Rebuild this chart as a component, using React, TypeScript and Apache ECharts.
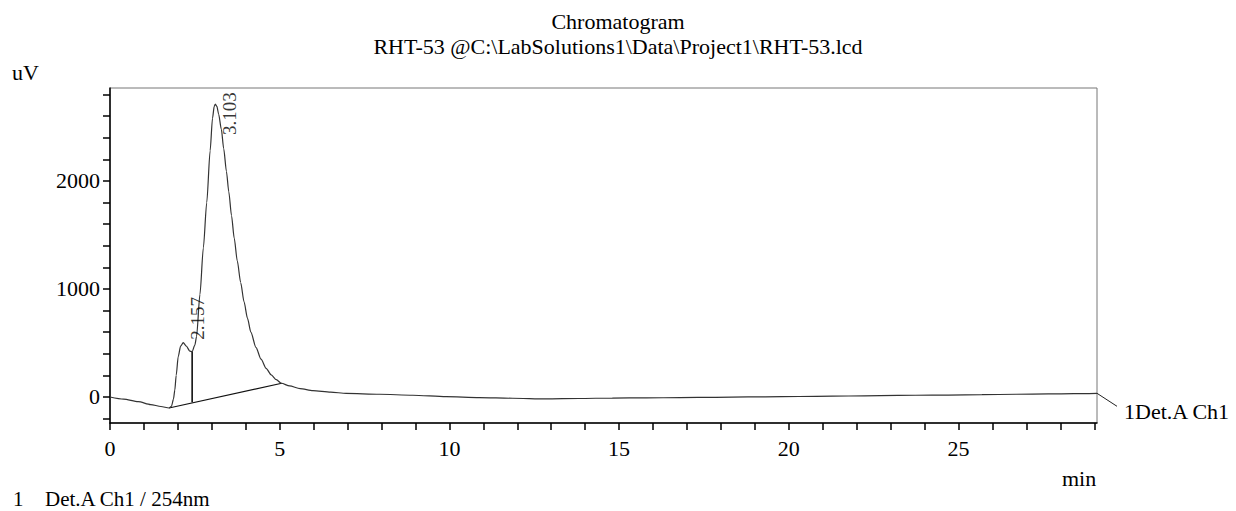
import React, { useEffect, useRef } from "react";
import * as echarts from "echarts";

const titleLines = ["Chromatogram", "RHT-53 @C:\\LabSolutions1\\Data\\Project1\\RHT-53.lcd"];

const retentionTimes = [
  0, 0.4, 0.83, 1.2, 1.5, 1.74, 1.81, 1.87, 1.91, 1.95, 2.01, 2.08, 2.157, 2.25, 2.35, 2.42,
  2.5, 2.55, 2.65, 2.75, 2.85, 2.95, 3.02, 3.07, 3.103, 3.15, 3.2, 3.28, 3.35, 3.43, 3.5,
  3.58, 3.66, 3.75, 3.85, 3.95, 4.05, 4.15, 4.3, 4.45, 4.6, 4.75, 4.9, 5.05, 5.29, 5.6,
  5.98, 6.5, 6.96, 7.94, 8.92, 9.9, 10.88, 11.86, 12.84, 13.82, 14.8, 15.8, 16.8, 17.84,
  18.8, 19.8, 20.8, 21.76, 22.7, 23.73, 24.7, 25.69, 26.7, 27.65, 28.4, 29.08,
];
const signalUV = [
  0, -20, -43, -70, -88, -102, -87, -20, 65, 200, 373, 470, 503, 470, 425, 420,
  480, 560, 950, 1380, 1800, 2280, 2580, 2690, 2713, 2690, 2620, 2480, 2300, 2090, 1900,
  1680, 1470, 1260, 1060, 880, 730, 600, 460, 350, 265, 205, 160, 127, 102, 78,
  58, 44, 34, 25, 16, 3, -6, -12, -18, -14, -10, -8, -6, -3,
  0, 3, 6, 9, 12, 16, 18, 21, 25, 28, 31, 34,
];

const baselineTimes = [1.74, 5.06];
const baselineValues = [-102, 127];
const dropLineTimes = [2.42, 2.42];
const dropLineValues = [-50, 420];

const peakTimes = [2.157, 3.103];
const peakHeights = [503, 2713];
const peakLabels = ["2.157", "3.103"];

const xTickValues = [0, 1, 2, 3, 4, 5, 6, 7, 8, 9, 10, 11, 12, 13, 14, 15, 16, 17, 18, 19, 20, 21, 22, 23, 24, 25, 26, 27, 28, 29];
const xLabelValues = [0, 5, 10, 15, 20, 25];
const yTickValues = [-200, 0, 200, 400, 600, 800, 1000, 1200, 1400, 1600, 1800, 2000, 2200, 2400, 2600, 2800];
const yLabelValues = [0, 1000, 2000];

const yAxisUnit = "uV";
const xAxisUnit = "min";
const channelName = "1Det.A Ch1";
const footnoteIndex = "1";
const footnoteText = "Det.A Ch1 / 254nm";

const FONT = "'Liberation Serif', 'Times New Roman', serif";

export default function App() {
  const ref = useRef<HTMLDivElement>(null);

  useEffect(() => {
    if (!ref.current) return;
    const chart = echarts.init(ref.current, undefined, { renderer: "svg" });

    const curve = retentionTimes.map((t, i) => [t, signalUV[i]]);
    const baseline = baselineTimes.map((t, i) => [t, baselineValues[i]]);
    const dropLine = dropLineTimes.map((t, i) => [t, dropLineValues[i]]);
    const labelOffsets = [
      [14, -3],
      [14, 31],
    ];
    const peaks = peakTimes.map((t, i) => ({
      value: [t, peakHeights[i]],
      label: { position: labelOffsets[i], formatter: peakLabels[i] },
    }));

    chart.setOption({
      animation: false,
      backgroundColor: "#fff",
      title: {
        text: titleLines.join("\n"),
        left: "center",
        top: 9,
        padding: 0,
        textStyle: { fontFamily: FONT, fontSize: 22, fontWeight: "normal", color: "#000", lineHeight: 25 },
      },
      grid: {
        left: 110,
        top: 88,
        right: 139,
        bottom: 88,
        show: true,
        borderColor: "#777",
        borderWidth: 1,
      },
      xAxis: {
        type: "value",
        min: 0,
        max: 29.08,
        axisLine: { show: true, onZero: false, lineStyle: { color: "#000", width: 1.5 } },
        axisTick: { show: true, inside: false, length: 7, customValues: xTickValues, lineStyle: { color: "#000", width: 1.5 } },
        axisLabel: {
          customValues: xLabelValues,
          formatter: (v: number) => String(v),
          fontFamily: FONT,
          fontSize: 22,
          color: "#000",
          margin: 14,
        },
        splitLine: { show: false },
      },
      yAxis: {
        type: "value",
        min: -241,
        max: 2861,
        axisLine: { show: true, onZero: false, lineStyle: { color: "#000", width: 1.5 } },
        axisTick: { show: true, inside: false, length: 7, customValues: yTickValues, lineStyle: { color: "#000", width: 1.5 } },
        axisLabel: {
          customValues: yLabelValues,
          formatter: (v: number) => String(v),
          fontFamily: FONT,
          fontSize: 22,
          color: "#000",
          margin: 10,
        },
        splitLine: { show: false },
      },
      series: [
        {
          type: "line",
          data: curve,
          symbol: "none",
          smooth: 0.25,
          smoothMonotone: "x",
          lineStyle: { color: "#333", width: 1.2 },
          z: 3,
        },
        {
          type: "line",
          data: baseline,
          symbol: "none",
          lineStyle: { color: "#111", width: 1.2 },
          z: 2,
        },
        {
          type: "line",
          data: dropLine,
          symbol: "none",
          lineStyle: { color: "#000", width: 1.5 },
          z: 2,
        },
        {
          type: "scatter",
          data: peaks,
          symbolSize: 0,
          label: {
            show: true,
            rotate: 90,
            align: "left",
            verticalAlign: "middle",
            fontFamily: FONT,
            fontSize: 19,
            color: "#000",
          },
          z: 4,
        },
      ],
    });

    const lastIdx = retentionTimes.length - 1;
    const end = chart.convertToPixel({ gridIndex: 0 }, [retentionTimes[lastIdx], signalUV[lastIdx]]) as number[];
    const textStyle = { fontFamily: FONT, fontSize: 22, fill: "#000", verticalAlign: "middle", align: "left" };
    const footStyle = { ...textStyle, fontSize: 21 };

    chart.setOption({
      graphic: [
        {
          type: "line",
          shape: { x1: end[0], y1: end[1], x2: end[0] + 20, y2: end[1] + 13 },
          style: { stroke: "#222", lineWidth: 1 },
        },
        { type: "text", x: end[0] + 27, y: end[1] + 18, style: { ...textStyle, text: channelName } },
        { type: "text", x: 12, y: 72, style: { ...textStyle, text: yAxisUnit } },
        { type: "text", x: 1062, y: 478, style: { ...textStyle, text: xAxisUnit } },
        { type: "text", x: 13, y: 499, style: { ...footStyle, text: footnoteIndex } },
        { type: "text", x: 45, y: 499, style: { ...footStyle, text: footnoteText } },
      ],
    });

    return () => chart.dispose();
  }, []);

  return <div ref={ref} style={{ position: "absolute", left: 0, top: 0, width: 1236, height: 511 }} />;
}
